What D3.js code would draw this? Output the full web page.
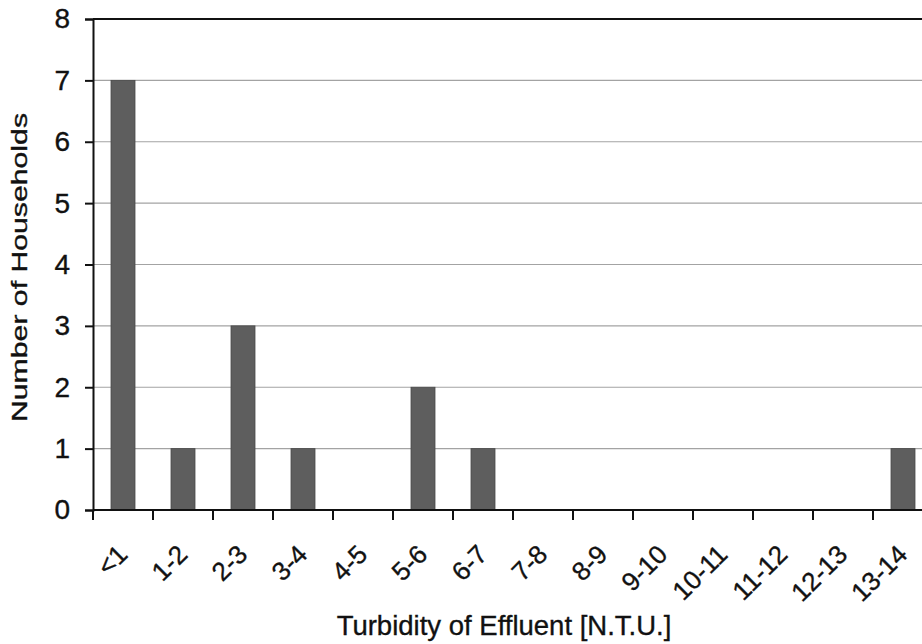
<!DOCTYPE html>
<html>
<head>
<meta charset="utf-8">
<script src="https://cdn.jsdelivr.net/npm/d3@7"></script>
<style>
  html, body { margin: 0; padding: 0; background: #fff; }
  svg { display: block; }
  text { font-family: "Liberation Sans", Arial, sans-serif; fill: #111; stroke: #111; stroke-width: 0.35px; }
</style>
</head>
<body>
<svg id="chart" width="922" height="644"></svg>
<script>
// Turbidity ranges (N.T.U.) and household counts
const categories = ["<1", "1-2", "2-3", "3-4", "4-5", "5-6", "6-7", "7-8", "8-9", "9-10", "10-11", "11-12", "12-13", "13-14"];
const households = [7, 1, 3, 1, 0, 2, 1, 0, 0, 0, 0, 0, 0, 1];
const yTicks = [0, 1, 2, 3, 4, 5, 6, 7, 8];

const svg = d3.select("#chart");
const plotLeft = 93, plotTop = 19, plotBottom = 510;
const bandW = 60;
const plotRight = plotLeft + bandW * categories.length;

const x = d3.scaleBand().domain(categories).range([plotLeft, plotRight]).paddingInner(0.6).paddingOuter(0.3);
const xTickScale = d3.scaleLinear().domain([0, categories.length]).range([plotLeft, plotRight]);
const y = d3.scaleLinear().domain([0, 8]).range([plotBottom, plotTop]);

// horizontal gridlines
svg.append("g").selectAll("line")
  .data(yTicks.filter(d => d > 0 && d < 8))
  .join("line")
  .attr("x1", plotLeft).attr("x2", plotRight)
  .attr("y1", d => y(d)).attr("y2", d => y(d))
  .attr("stroke", "#a3a3a3").attr("stroke-width", 1.2);

// top border
svg.append("line")
  .attr("x1", plotLeft).attr("x2", plotRight)
  .attr("y1", y(8)).attr("y2", y(8))
  .attr("stroke", "#111").attr("stroke-width", 2);

// bars
svg.append("g").selectAll("rect")
  .data(households.map((v, i) => ({ c: categories[i], v })).filter(d => d.v > 0))
  .join("rect")
  .attr("x", d => x(d.c))
  .attr("width", x.bandwidth())
  .attr("y", d => y(d.v))
  .attr("height", d => y(0) - y(d.v))
  .attr("fill", "#5e5e5e")
  .attr("stroke", "#4a4a4a").attr("stroke-width", 0.8);

// y axis
const yAxis = d3.axisLeft(y).tickValues(yTicks).tickSize(8).tickPadding(15).tickFormat(d3.format("d"));
const gy = svg.append("g").attr("transform", `translate(${plotLeft},0)`).call(yAxis);
gy.select(".domain").attr("stroke", "#111").attr("stroke-width", 2);
gy.selectAll(".tick line").attr("stroke", "#111").attr("stroke-width", 2);
gy.selectAll(".tick text").attr("font-size", 28).attr("fill", "#111")
  .attr("font-family", "'Liberation Sans', Arial, sans-serif");

// x axis baseline and ticks at category boundaries
svg.append("line")
  .attr("x1", plotLeft).attr("x2", plotRight)
  .attr("y1", plotBottom).attr("y2", plotBottom)
  .attr("stroke", "#111").attr("stroke-width", 2);
svg.append("g").selectAll("line")
  .data(d3.range(categories.length + 1))
  .join("line")
  .attr("x1", d => xTickScale(d)).attr("x2", d => xTickScale(d))
  .attr("y1", plotBottom).attr("y2", plotBottom + 10)
  .attr("stroke", "#111").attr("stroke-width", 2);

// rotated category labels
svg.append("g").selectAll("text")
  .data(categories)
  .join("text")
  .attr("transform", d => `translate(${x(d) + x.bandwidth() / 2 + 6},${plotBottom + 46}) rotate(-45)`)
  .attr("text-anchor", "end")
  .attr("font-size", 26)
  .text(d => d);

// axis titles
svg.append("text")
  .attr("x", 504).attr("y", 635)
  .attr("text-anchor", "middle")
  .attr("font-size", 27.5)
  .text("Turbidity of Effluent [N.T.U.]");

svg.append("text")
  .attr("transform", `translate(27,267.5) rotate(-90)`)
  .attr("text-anchor", "middle")
  .attr("font-size", 22)
  .attr("textLength", 309)
  .attr("lengthAdjust", "spacingAndGlyphs")
  .text("Number of Households");
</script>
</body>
</html>
